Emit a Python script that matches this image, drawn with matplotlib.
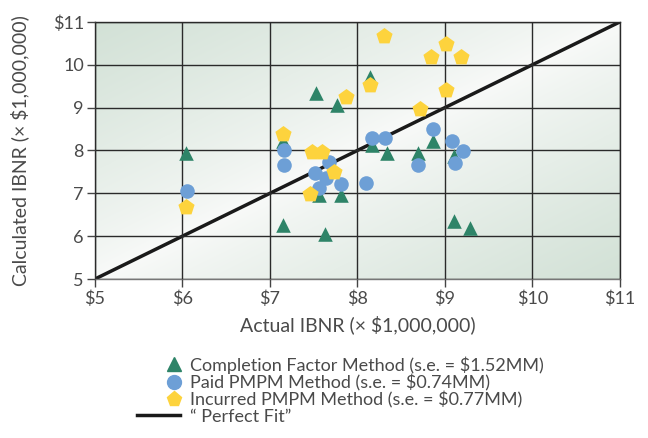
"""Calculated vs actual IBNR by method."""

import matplotlib.pyplot as plt
import numpy as np
from matplotlib.colors import LinearSegmentedColormap
from matplotlib.legend_handler import HandlerLine2D
from matplotlib.lines import Line2D

# Completion Factor Method
cf_actual = [6.04, 7.15, 7.15, 7.53, 7.77, 7.56, 7.81, 7.63,
             8.14, 8.17, 8.34, 8.69, 8.86, 9.10, 9.10, 9.29]
cf_calc = [7.93, 8.22, 6.25, 9.34, 9.05, 6.96, 6.96, 6.04,
           9.72, 8.13, 7.93, 7.93, 8.21, 7.86, 6.36, 6.19]

# Paid PMPM Method
paid_actual = [6.05, 7.16, 7.16, 7.67, 7.52, 7.64, 7.56, 7.81,
               8.17, 8.31, 8.10, 8.86, 9.08, 9.21, 9.11, 8.69]
paid_calc = [7.06, 8.01, 7.66, 7.72, 7.47, 7.35, 7.12, 7.22,
             8.30, 8.30, 7.24, 8.49, 8.21, 7.99, 7.70, 7.65]

# Incurred PMPM Method
inc_actual = [6.04, 7.15, 7.48, 7.60, 7.73, 7.46, 7.87,
              8.30, 9.01, 8.84, 9.18, 8.14, 9.01, 8.71]
inc_calc = [6.69, 8.38, 7.97, 7.97, 7.50, 6.99, 9.24,
            10.67, 10.48, 10.19, 10.17, 9.53, 9.42, 8.96]

labels = [
    "Completion Factor Method (s.e. = $1.52MM)",
    "Paid PMPM Method (s.e. = $0.74MM)",
    "Incurred PMPM Method (s.e. = $0.77MM)",
    "\u201c Perfect Fit\u201d",
]

x_ticks = [5, 6, 7, 8, 9, 10, 11]
x_ticklabels = ["$5", "$6", "$7", "$8", "$9", "$10", "$11"]
y_ticks = [5, 6, 7, 8, 9, 10, 11]
y_ticklabels = ["5", "6", "7", "8", "9", "10", "$11"]

green = "#2e8468"
blue = "#6d9fd6"
yellow = "#fdd33d"
text_col = "#4a4a4a"


class RightMarkerHandler(HandlerLine2D):
    # shift the single legend marker toward the right end of the handle box
    def get_xdata(self, legend, xdescent, ydescent, width, height, fontsize):
        xdata = np.array([-xdescent, -xdescent + 2 * 0.86 * width])
        return xdata, xdata


plt.rcParams["font.family"] = ["Lato", "DejaVu Sans"]
plt.rcParams["text.color"] = text_col

fig = plt.figure(figsize=(6.48, 4.38), dpi=100)
ax = fig.add_axes([0.1466, 0.363, 0.810, 0.587])

# diagonal gradient background: white along the diagonal, green toward corners
u, v = np.meshgrid(np.linspace(0, 1, 300), np.linspace(0, 1, 300))
dist = np.abs(u - v) ** 0.8
cmap = LinearSegmentedColormap.from_list("bg", ["#f9faf9", "#e6eee8", "#d2e1d6"])
ax.imshow(dist, extent=[5, 11, 5, 11], origin="lower", cmap=cmap,
          aspect="auto", zorder=0, vmin=0, vmax=1)

ax.set_xlim(5, 11)
ax.set_ylim(5, 11)
ax.set_xticks(x_ticks, x_ticklabels)
ax.set_yticks(y_ticks, y_ticklabels)
ax.grid(True, color="#2a2a2a", linewidth=1.0, zorder=1)
ax.set_axisbelow(False)
for s in ax.spines.values():
    s.set_color("#2a2a2a")
    s.set_linewidth(1.0)
ax.spines["bottom"].set_color("#777777")
ax.tick_params(direction="out", length=6, width=1.0, color="#444444",
               labelsize=13, labelcolor=text_col, pad=2)

ax.plot([5, 11], [5, 11], color="#1a1a1a", linewidth=2.5, zorder=2)
ax.scatter(cf_actual, cf_calc, marker="^", s=110, color=green, zorder=3, linewidths=0)
ax.scatter(paid_actual, paid_calc, marker="o", s=110, color=blue, zorder=4, linewidths=0)
ax.scatter(inc_actual, inc_calc, marker="p", s=150, color=yellow, zorder=5, linewidths=0)

ax.set_xlabel("Actual IBNR (\u00d7 $1,000,000)", fontsize=14, color=text_col, labelpad=6)
ax.set_ylabel("Calculated IBNR (\u00d7 $1,000,000)", fontsize=14, color=text_col, labelpad=17)

handles = [
    Line2D([], [], marker="^", linestyle="none", color=green, markersize=10),
    Line2D([], [], marker="o", linestyle="none", color=blue, markersize=10),
    Line2D([], [], marker="p", linestyle="none", color=yellow, markersize=11),
    Line2D([], [], color="#1a1a1a", linewidth=2.5),
]
marker_handler = RightMarkerHandler()
fig.legend(handles, labels, loc="upper left", bbox_to_anchor=(0.211, 0.187),
           frameon=False, fontsize=13, handlelength=2.4, handletextpad=0.55,
           labelspacing=0.02, borderaxespad=0, borderpad=0,
           handler_map={h: marker_handler for h in handles[:3]})

fig.savefig("out.png", dpi=100)
plt.close(fig)
